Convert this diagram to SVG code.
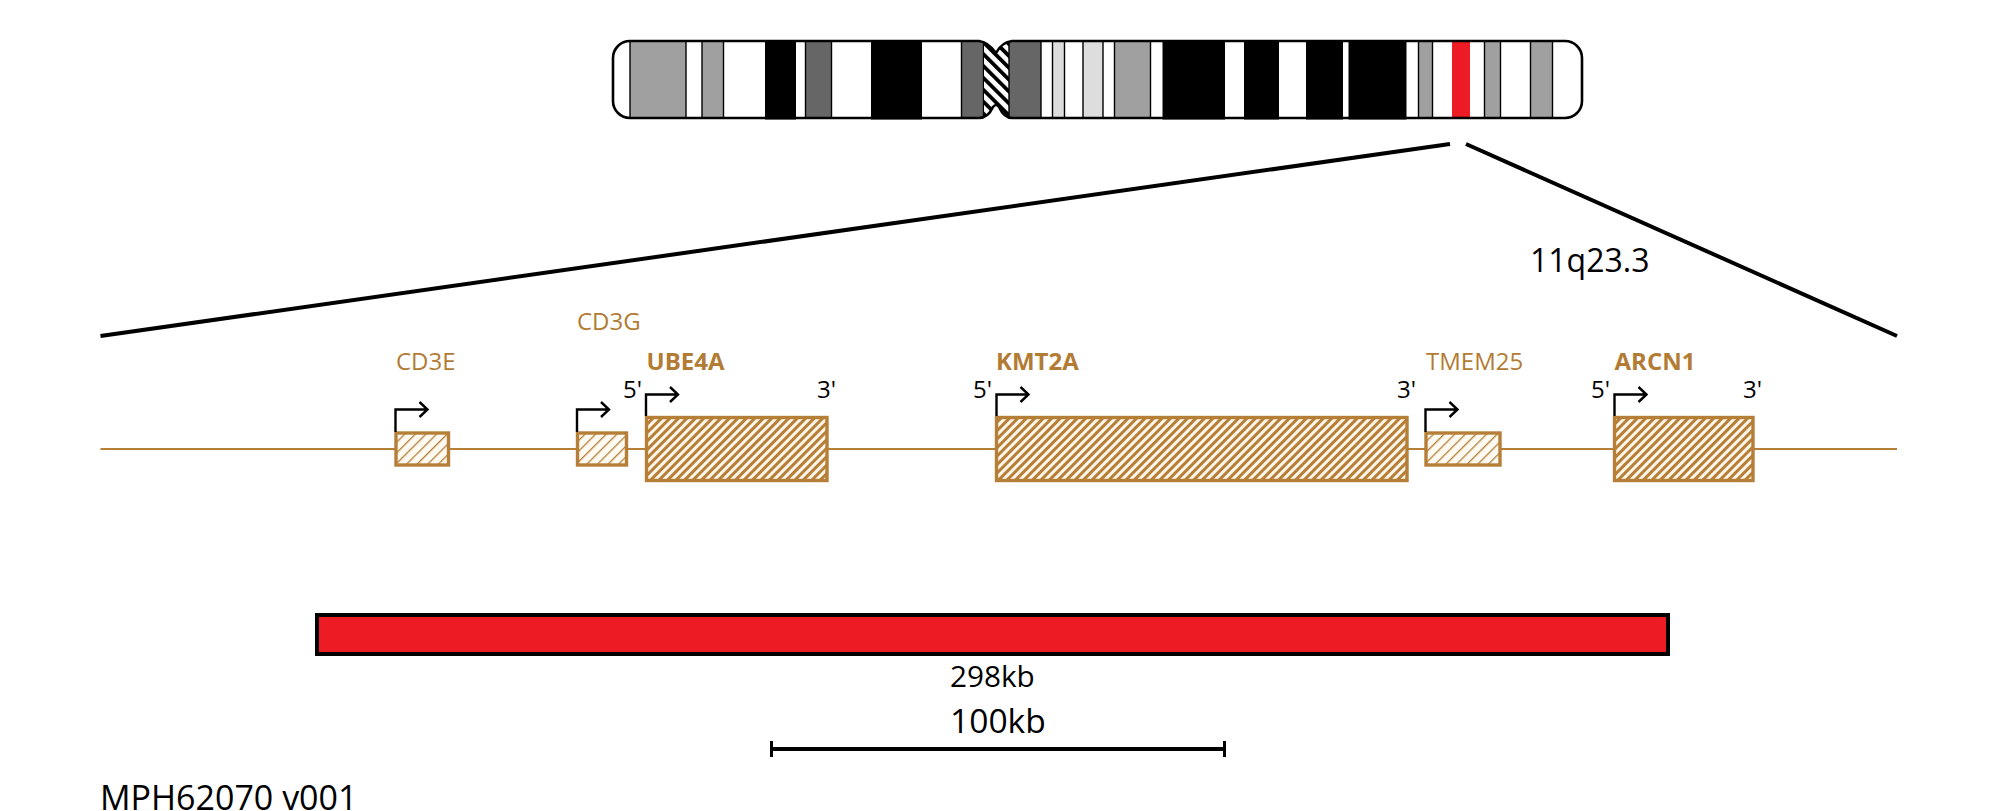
<svg xmlns="http://www.w3.org/2000/svg" width="1997" height="811" viewBox="0 0 1997 811">
<style>
text{font-family:"Open Sans","Noto Sans",sans-serif;fill:#000}
.gl{fill:#b27c35;font-size:24px}
.gb{fill:#b27c35;font-size:24px;font-weight:700}
.pr{font-size:24px}
.gene{stroke:#b57f38;stroke-width:3.4}
.cb{stroke:#000;stroke-width:1.4}
.tss{fill:none;stroke:#000;stroke-width:2.4}
.arm{fill:none;stroke:#000;stroke-width:2.6}
</style>
<defs>
<pattern id="hd" patternUnits="userSpaceOnUse" width="6" height="8" patternTransform="rotate(45)"><rect width="6" height="8" fill="#fff5e8"/><rect width="3" height="8" fill="#b57f38"/></pattern>
<pattern id="hl" patternUnits="userSpaceOnUse" width="7.500" height="8" patternTransform="rotate(45)"><rect width="7.500" height="8" fill="#fffaf2"/><rect width="1.3" height="8" fill="#b57f38"/></pattern>
<pattern id="hc" patternUnits="userSpaceOnUse" width="8.400" height="8.400" patternTransform="rotate(-45)"><rect width="8.400" height="8.400" fill="#fff"/><rect width="3.800" height="8.400" fill="#000"/></pattern>
<clipPath id="shape"><path d="M630 41H979Q988 42 996 53Q1002 42 1012 41H1565A17 17 0 0 1 1582 58V101A17 17 0 0 1 1565 118H1012Q1004 118 999 107Q996 103 993 107Q988 118 979 118H630A17 17 0 0 1 613 101V58A17 17 0 0 1 630 41Z"/></clipPath>
</defs>
<g id="chromosome">
<g id="bands" clip-path="url(#shape)">
<rect x="612" y="38" width="972" height="84" fill="#fff"/>
<rect class="cb" x="630" y="38" width="56" height="84" fill="#a0a0a0"/>
<rect class="cb" x="702" y="38" width="21.5" height="84" fill="#a0a0a0"/>
<rect class="cb" x="805.5" y="38" width="26" height="84" fill="#666"/>
<rect class="cb" x="961.5" y="38" width="22" height="84" fill="#666"/>
<rect x="984" y="38" width="25" height="84" fill="url(#hc)"/>
<rect class="cb" x="1009" y="38" width="32" height="84" fill="#666"/>
<rect class="cb" x="1052.5" y="38" width="12" height="84" fill="#ddd"/>
<rect class="cb" x="1083" y="38" width="20" height="84" fill="#ddd"/>
<rect class="cb" x="1114.5" y="38" width="36" height="84" fill="#a0a0a0"/>
<rect class="cb" x="1418.5" y="38" width="14" height="84" fill="#a0a0a0"/>
<rect x="1452" y="38" width="18" height="84" fill="#ed1c24"/>
<rect class="cb" x="1484.5" y="38" width="16" height="84" fill="#a0a0a0"/>
<rect class="cb" x="1530.5" y="38" width="22" height="84" fill="#a0a0a0"/>
</g>
<path class="arm" d="M630 41H979Q988 42 996 53Q1002 42 1012 41H1565A17 17 0 0 1 1582 58V101A17 17 0 0 1 1565 118H1012Q1004 118 999 107Q996 103 993 107Q988 118 979 118H630A17 17 0 0 1 613 101V58A17 17 0 0 1 630 41Z"/>
<g id="dark-bands">
<rect x="765" y="40" width="31" height="79.500"/>
<rect x="871" y="40" width="51" height="79.500"/>
<rect x="1162.500" y="40" width="62.500" height="79.500"/>
<rect x="1244" y="40" width="35" height="79.500"/>
<rect x="1306" y="40" width="37" height="79.500"/>
<rect x="1348.500" y="40" width="58" height="79.500"/>
</g>
</g>
<g id="connectors">
<path d="M100.500 336L1450 144" fill="none" stroke="#000" stroke-width="4"/>
<path d="M1466 144L1897 336" fill="none" stroke="#000" stroke-width="4"/>
<path d="M100.500 449H1897" fill="none" stroke="#b57f38" stroke-width="2"/>
</g>
<text id="band-label" x="1530" y="272" font-size="32">11q23.3</text>
<g id="gene-CD3E">
<rect class="gene" x="396" y="433" width="52.500" height="32" fill="url(#hl)"/>
<path class="tss" d="M395.500 432V409.500H427M419.500 402L427.500 409.500L419.500 417"/>
<text class="gl" x="396" y="369.500">CD3E</text>
</g>
<g id="gene-CD3G">
<rect class="gene" x="577.500" y="433" width="49" height="32" fill="url(#hl)"/>
<path class="tss" d="M577 432V409.500H608.500M601 402L609 409.500L601 417"/>
<text class="gl" x="577" y="330">CD3G</text>
</g>
<g id="gene-UBE4A">
<rect class="gene" x="646.500" y="417.500" width="180.500" height="63" fill="url(#hd)"/>
<path class="tss" d="M646 416V394.500H677.500M670 387L678 394.500L670 402"/>
<text class="gb" x="646.500" y="369.500">UBE4A</text>
<text class="pr" x="623" y="398">5'</text>
<text class="pr" x="817" y="398">3'</text>
</g>
<g id="gene-KMT2A">
<rect class="gene" x="996.500" y="417.500" width="410.500" height="63" fill="url(#hd)"/>
<path class="tss" d="M996.500 416V394.500H1028M1020.500 387L1028.500 394.500L1020.500 402"/>
<text class="gb" x="996" y="369.500">KMT2A</text>
<text class="pr" x="973" y="398">5'</text>
<text class="pr" x="1397" y="398">3'</text>
</g>
<g id="gene-TMEM25">
<rect class="gene" x="1426" y="433" width="74" height="32" fill="url(#hl)"/>
<path class="tss" d="M1425.500 432V409.500H1457M1449.500 402L1457.500 409.500L1449.500 417"/>
<text class="gl" x="1426" y="369.500">TMEM25</text>
</g>
<g id="gene-ARCN1">
<rect class="gene" x="1614.500" y="417.500" width="138.500" height="63" fill="url(#hd)"/>
<path class="tss" d="M1614.500 416V394.500H1646M1638.500 387L1646.500 394.500L1638.500 402"/>
<text class="gb" x="1614.500" y="369.500">ARCN1</text>
<text class="pr" x="1591" y="398">5'</text>
<text class="pr" x="1743" y="398">3'</text>
</g>
<g id="region">
<rect x="317" y="615" width="1351" height="39" fill="#ed1c24" stroke="#000" stroke-width="4"/>
<text x="950" y="687" font-size="29.7">298kb</text>
</g>
<g id="scale">
<path d="M771 749H1225" fill="none" stroke="#000" stroke-width="4"/>
<path d="M771.500 741V757M1224.500 741V757" fill="none" stroke="#000" stroke-width="3"/>
<text x="950" y="733" font-size="33.6">100kb</text>
</g>
<text id="version" x="100" y="810" font-size="34">MPH62070 v001</text>
</svg>
